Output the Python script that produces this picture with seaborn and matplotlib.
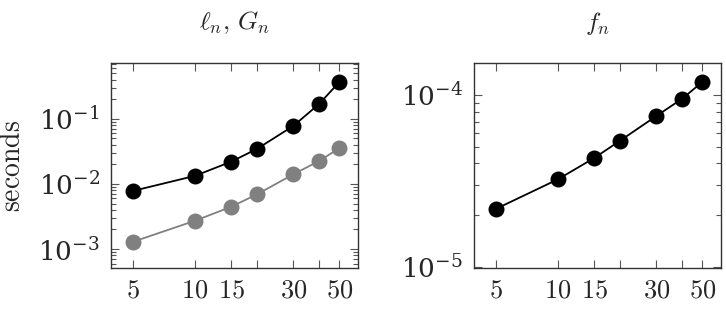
import matplotlib
matplotlib.use("Agg")
import matplotlib.pyplot as plt
import matplotlib.ticker as mticker
import seaborn as sns
import pandas as pd
import numpy as np

n_values = [5, 10, 15, 20, 30, 40, 50]
ell_times = [0.0078, 0.0133, 0.022, 0.0346, 0.078, 0.17, 0.367]
G_times = [0.00129, 0.00272, 0.00447, 0.00694, 0.0141, 0.0226, 0.0354]
f_times = [2.17e-5, 3.23e-5, 4.3e-5, 5.42e-5, 7.55e-5, 9.52e-5, 1.19e-4]
x_tick_labels = ["5", "10", "15", "", "30", "", "50"]

sns.set_style("ticks")
plt.rcParams["mathtext.fontset"] = "cm"
plt.rcParams["font.family"] = ["DejaVu Serif"]

FS_TICK = 19
FS_TITLE = 18.5
FS_YLAB = 20

df_left = pd.DataFrame({
    "n": n_values * 2,
    "t": ell_times + G_times,
    "series": ["ell"] * len(n_values) + ["G"] * len(n_values),
})
df_right = pd.DataFrame({"n": n_values, "t": f_times, "series": ["f"] * len(n_values)})

fig = plt.figure(figsize=(7.26, 3.10), dpi=100)
ax1 = fig.add_axes([0.153, 0.135, 0.340, 0.662])
ax2 = fig.add_axes([0.653, 0.135, 0.340, 0.662])

pal = {"ell": "black", "G": "#808080", "f": "black"}
for ax, df in ((ax1, df_left), (ax2, df_right)):
    sns.lineplot(data=df, x="n", y="t", hue="series", palette=pal, marker="o",
                 markersize=11.5, markeredgewidth=0, linewidth=1.3, ax=ax, legend=False)

def style(ax, ylim):
    ax.set_xscale("log")
    ax.set_yscale("log")
    ax.set_xlim(3.93, 61.5)
    ax.set_ylim(*ylim)
    ax.set_xticks(n_values)
    ax.set_xticklabels(["$%s$" % s if s else "" for s in x_tick_labels], fontsize=FS_TICK)
    ax.xaxis.set_minor_locator(mticker.NullLocator())
    ax.yaxis.set_major_locator(mticker.LogLocator(base=10))
    ax.yaxis.set_minor_locator(mticker.LogLocator(base=10, subs=np.arange(2, 10)))
    ax.yaxis.set_minor_formatter(mticker.NullFormatter())
    ax.tick_params(which="both", direction="in", top=True, right=True,
                   labelsize=FS_TICK, color="#555555", width=0.8)
    ax.tick_params(which="major", length=6)
    ax.tick_params(which="minor", length=3.5)
    ax.tick_params(axis="x", pad=7)
    ax.tick_params(axis="y", pad=8)
    for s in ax.spines.values():
        s.set_linewidth(1.0)
        s.set_color("#333333")
    ax.set_xlabel("")
    ax.set_ylabel("")

style(ax1, (5.1e-4, 0.72))
style(ax2, (9.83e-6, 1.535e-4))

ax1.set_ylabel(r"$\mathrm{seconds}$", fontsize=FS_YLAB, va="center")
ax1.yaxis.set_label_coords(-0.40, 0.5)
ax1.set_title(r"$\ell_n,\,G_n$", fontsize=FS_TITLE, pad=24)
ax2.set_title(r"$f_n$", fontsize=FS_TITLE, pad=24)

fig.savefig("out.png", dpi=100)
